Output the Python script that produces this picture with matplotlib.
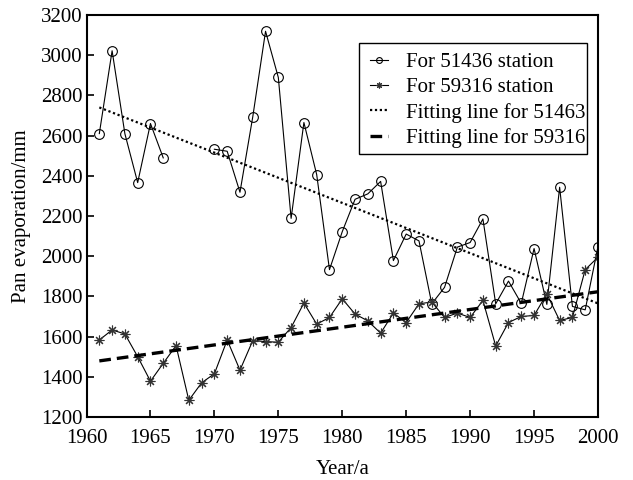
import numpy as np
import matplotlib
matplotlib.use("Agg")
import matplotlib.pyplot as plt
from matplotlib.patches import Rectangle

plt.rcParams['font.family'] = ['Liberation Serif', 'DejaVu Serif']
plt.rcParams['mathtext.fontset'] = 'stix'

# Station 51436 (missing 1967-1969)
years_a = [1961, 1962, 1963, 1964, 1965, 1966,
           1970, 1971, 1972, 1973, 1974, 1975, 1976, 1977, 1978, 1979,
           1980, 1981, 1982, 1983, 1984, 1985, 1986, 1987, 1988, 1989,
           1990, 1991, 1992, 1993, 1994, 1995, 1996, 1997, 1998, 1999, 2000]
evap_a = [2610, 3022, 2609, 2366, 2660, 2489,
          2532, 2522, 2318, 2693, 3119, 2889, 2188, 2665, 2406, 1933,
          2122, 2283, 2310, 2372, 1978, 2110, 2076, 1763, 1845, 2045,
          2068, 2185, 1763, 1876, 1765, 2038, 1760, 2343, 1750, 1733, 2048]

# Station 59316
years_b = list(range(1961, 2001))
evap_b = [1583, 1633, 1613, 1500, 1378, 1467, 1555, 1283, 1370, 1415,
          1583, 1433, 1580, 1575, 1572, 1645, 1767, 1662, 1695, 1788,
          1712, 1678, 1617, 1717, 1670, 1763, 1772, 1695, 1717, 1695,
          1780, 1553, 1670, 1700, 1705, 1812, 1680, 1695, 1933, 1995]

# Fitting lines (endpoints)
fit_years = [1961, 2000]
fit_a = [2740, 1765]
fit_b = [1479, 1823]

labels = ["For 51436 station", "For 59316 station",
          "Fitting line for 51463", "Fitting line for 59316"]
xticks = [1960, 1965, 1970, 1975, 1980, 1985, 1990, 1995, 2000]
yticks = [1200, 1400, 1600, 1800, 2000, 2200, 2400, 2600, 2800, 3000, 3200]

fig = plt.figure(figsize=(6.33, 4.8), dpi=100)
ax = fig.add_axes([0.1367, 0.1313, 0.808, 0.8375])

ax.plot(years_a[:6], evap_a[:6], color='black', lw=0.8, marker='o',
        markersize=7, markerfacecolor='none', markeredgewidth=0.8,
        label=labels[0])
ax.plot(years_a[6:], evap_a[6:], color='black', lw=0.8, marker='o',
        markersize=7, markerfacecolor='none', markeredgewidth=0.8)
ax.plot(years_b, evap_b, color='black', lw=0.8, marker=(8, 2, 0),
        markersize=7, markeredgewidth=0.8, markeredgecolor='#333333',
        label=labels[1])
ax.plot(fit_years, fit_a, color='black', lw=1.6, linestyle=(0, (1, 1.2)),
        label=labels[2])
ax.plot(fit_years, fit_b, color='black', lw=2.4, linestyle=(0, (3.5, 1.8)),
        label=labels[3])

ax.set_xlim(1960, 2000)
ax.set_ylim(1200, 3200)
ax.set_xticks(xticks)
ax.set_yticks(yticks)
ax.tick_params(direction='in', length=5, width=1.2, labelsize=15,
               top=False, right=False)
ax.tick_params(axis='x', pad=9)
ax.tick_params(axis='y', pad=3)
for s in ax.spines.values():
    s.set_linewidth(1.5)

ax.set_xlabel("Year/a", fontsize=15, labelpad=8)
ax.set_ylabel("Pan evaporation/mm", fontsize=15, labelpad=7)

leg = ax.legend(loc='upper left', bbox_to_anchor=(0.554, 0.907),
                fontsize=15, frameon=False, handlelength=0.87,
                handletextpad=0.85, borderpad=0, borderaxespad=0,
                labelspacing=0.27, markerscale=0.6)
ax.add_patch(Rectangle((0.533, 0.654), 0.445, 0.276, transform=ax.transAxes,
                       fill=False, edgecolor='black', lw=1.0, zorder=5))

fig.savefig("out.png", dpi=100)
